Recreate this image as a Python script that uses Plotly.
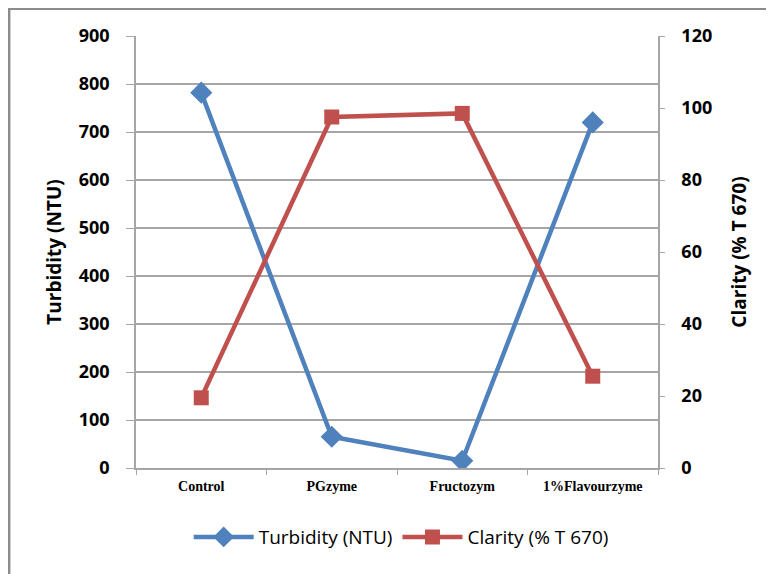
import plotly.graph_objects as go

categories = ["Control", "PGzyme", "Fructozym", "1%Flavourzyme"]
turbidity = [782, 65, 15, 720]
clarity = [19.5, 97.5, 98.5, 25.5]

BLUE = "#4F81BD"
RED = "#C0504D"
FONT = "Open Sans"
GRID = "#A6A6A6"

fig = go.Figure()
fig.add_trace(go.Scatter(
    x=categories, y=turbidity, name="Turbidity (NTU)", mode="lines+markers",
    line=dict(color=BLUE, width=4.5),
    marker=dict(symbol="diamond", size=17, color=BLUE),
    yaxis="y"))
fig.add_trace(go.Scatter(
    x=categories, y=clarity, name="Clarity (% T 670)", mode="lines+markers",
    line=dict(color=RED, width=4.5),
    marker=dict(symbol="square", size=15, color=RED),
    yaxis="y2"))

fig.update_layout(
    width=774, height=574,
    margin=dict(l=128, r=124, t=28, b=114),
    paper_bgcolor="white", plot_bgcolor="white",
    font=dict(family=FONT, color="black"),
    showlegend=True,
    legend=dict(orientation="h", x=0.508, xanchor="center", y=-0.16, yanchor="middle",
                font=dict(size=19, family=FONT), itemwidth=60),
    xaxis=dict(
        type="category", range=[-0.5, 3.5], tickson="boundaries", ticks="outside", ticklen=5,
        tickcolor=GRID, showline=True, linecolor=GRID, linewidth=1.5,
        showgrid=False, ticklabelstandoff=4,
        tickfont=dict(family="Liberation Serif", size=14, color="black"),
        automargin=False,
    ),
    yaxis=dict(
        range=[0, 900], dtick=100, ticks="outside", ticklen=8, tickcolor=GRID,
        showline=True, linecolor=GRID, linewidth=1.5,
        showgrid=True, gridcolor=GRID, gridwidth=1.5,
        ticklabelstandoff=13,
        tickfont=dict(size=18, family=FONT, color="black"),
        title=dict(text="<b>Turbidity (NTU)</b>", font=dict(size=19, family=FONT), standoff=12),
        zeroline=False, automargin=False,
    ),
    yaxis2=dict(
        range=[0, 120], dtick=20, overlaying="y", side="right",
        ticks="outside", ticklen=5, tickcolor=GRID,
        showline=True, linecolor=GRID, linewidth=1.5, showgrid=False,
        ticklabelstandoff=13,
        tickfont=dict(size=18, family=FONT, color="black"),
        title=dict(text="<b>Clarity (% T 670)</b>", font=dict(size=19, family=FONT), standoff=21),
        zeroline=False, automargin=False,
    ),
)

fig.update_yaxes(tickprefix="<b>", ticksuffix="</b>")
fig.update_xaxes(tickprefix="<b>", ticksuffix="</b>")

fig.add_shape(type="rect", xref="paper", yref="paper",
              x0=-0.243, x1=1.6, y0=-0.6, y1=1.063,
              line=dict(color="#8C8C8C", width=2.5), layer="below")

fig.write_html("out.html")
